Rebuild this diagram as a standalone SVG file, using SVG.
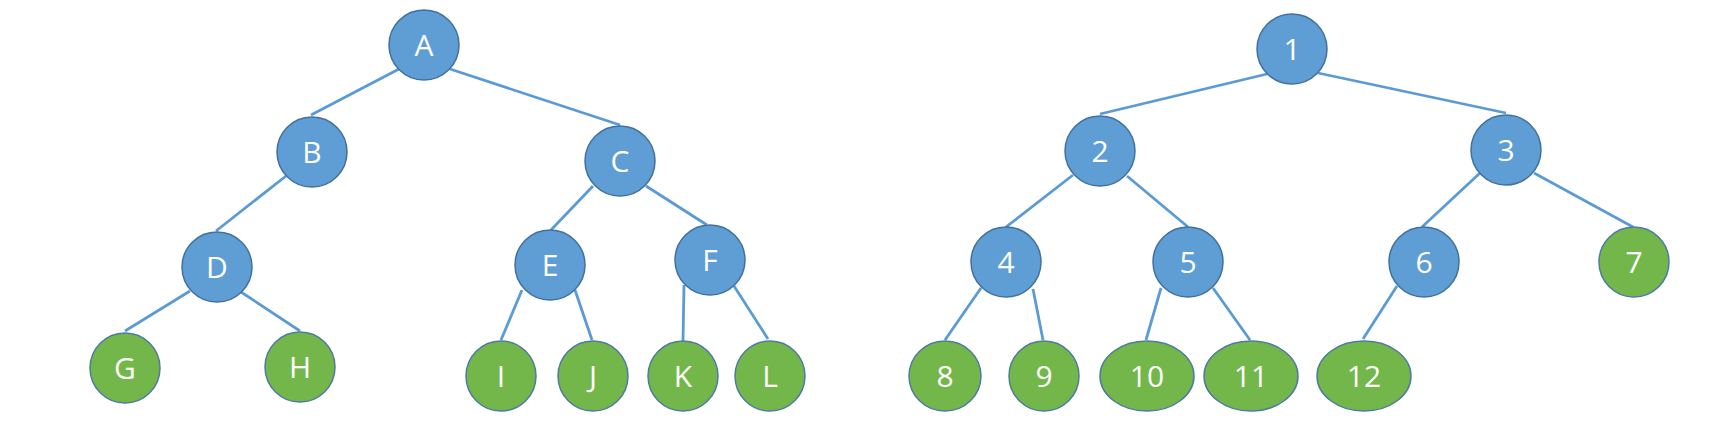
<svg xmlns="http://www.w3.org/2000/svg" width="1734" height="433" viewBox="0 0 1734 433">
<style>
.b{fill:#5F9DD5;stroke:#41719C;stroke-width:1.5}
.g{fill:#73B74A;stroke:#4E7BA0;stroke-width:1.5}
.t{font-family:"Open Sans","Liberation Sans",sans-serif;font-size:30px;fill:#ffffff;text-anchor:middle}
.e line{stroke:#5B9BD5;stroke-width:2.8;stroke-linecap:butt}
</style>
<rect width="1734" height="433" fill="#ffffff"/>
<g id="connectors" class="e">
<line x1="399" y1="69" x2="311" y2="115"/>
<line x1="450" y1="69" x2="620" y2="125"/>
<line x1="286" y1="176" x2="216" y2="231"/>
<line x1="593" y1="186" x2="551" y2="230"/>
<line x1="646" y1="186" x2="707" y2="225"/>
<line x1="190" y1="291" x2="125" y2="331"/>
<line x1="241" y1="292" x2="300" y2="331"/>
<line x1="522" y1="290" x2="501" y2="340"/>
<line x1="575" y1="290" x2="592" y2="340"/>
<line x1="684" y1="285" x2="683" y2="341"/>
<line x1="734" y1="286" x2="768" y2="339"/>
<line x1="1267" y1="74" x2="1100" y2="114"/>
<line x1="1318" y1="73" x2="1506" y2="113"/>
<line x1="1073" y1="175" x2="1006" y2="227"/>
<line x1="1127" y1="176" x2="1188" y2="227"/>
<line x1="1480" y1="173" x2="1422" y2="227"/>
<line x1="1534" y1="173" x2="1633" y2="227"/>
<line x1="981" y1="288" x2="945" y2="340"/>
<line x1="1033" y1="289" x2="1043" y2="340"/>
<line x1="1161" y1="288" x2="1146" y2="340"/>
<line x1="1213" y1="288" x2="1250" y2="340"/>
<line x1="1397" y1="286" x2="1363" y2="339"/>
</g>
<g id="A"><ellipse class="b" cx="424" cy="45" rx="35" ry="35"/><text class="t" x="424" y="56">A</text></g>
<g id="B"><ellipse class="b" cx="312" cy="152" rx="35" ry="35"/><text class="t" x="312" y="163">B</text></g>
<g id="C"><ellipse class="b" cx="620" cy="161" rx="35" ry="35"/><text class="t" x="620" y="172">C</text></g>
<g id="D"><ellipse class="b" cx="217" cy="267" rx="35" ry="35"/><text class="t" x="217" y="278">D</text></g>
<g id="E"><ellipse class="b" cx="550" cy="265" rx="35" ry="35"/><text class="t" x="550" y="276">E</text></g>
<g id="F"><ellipse class="b" cx="710" cy="260" rx="35" ry="35"/><text class="t" x="710" y="271">F</text></g>
<g id="G"><ellipse class="g" cx="125" cy="368" rx="35" ry="35"/><text class="t" x="125" y="379">G</text></g>
<g id="H"><ellipse class="g" cx="300" cy="367" rx="35" ry="35"/><text class="t" x="300" y="378">H</text></g>
<g id="I"><ellipse class="g" cx="501" cy="376" rx="35" ry="35"/><text class="t" x="501" y="387">I</text></g>
<g id="J"><ellipse class="g" cx="593" cy="376" rx="35" ry="35"/><text class="t" x="593" y="387">J</text></g>
<g id="K"><ellipse class="g" cx="683" cy="376" rx="35" ry="35"/><text class="t" x="683" y="387">K</text></g>
<g id="L"><ellipse class="g" cx="770" cy="376" rx="35" ry="35"/><text class="t" x="770" y="387">L</text></g>
<g id="n1"><ellipse class="b" cx="1292" cy="49" rx="35" ry="35"/><text class="t" x="1292" y="60">1</text></g>
<g id="n2"><ellipse class="b" cx="1100" cy="151" rx="35" ry="35"/><text class="t" x="1100" y="162">2</text></g>
<g id="n3"><ellipse class="b" cx="1506" cy="150" rx="35" ry="35"/><text class="t" x="1506" y="161">3</text></g>
<g id="n4"><ellipse class="b" cx="1006" cy="262" rx="35" ry="35"/><text class="t" x="1006" y="273">4</text></g>
<g id="n5"><ellipse class="b" cx="1188" cy="262" rx="35" ry="35"/><text class="t" x="1188" y="273">5</text></g>
<g id="n6"><ellipse class="b" cx="1424" cy="262" rx="35" ry="35"/><text class="t" x="1424" y="273">6</text></g>
<g id="n7"><ellipse class="g" cx="1634" cy="262" rx="35" ry="35"/><text class="t" x="1634" y="273">7</text></g>
<g id="n8"><ellipse class="g" cx="945" cy="376" rx="36" ry="35"/><text class="t" x="945" y="387">8</text></g>
<g id="n9"><ellipse class="g" cx="1044" cy="376" rx="35" ry="35"/><text class="t" x="1044" y="387">9</text></g>
<g id="n10"><ellipse class="g" cx="1147" cy="376" rx="47" ry="35"/><text class="t" x="1147" y="387">10</text></g>
<g id="n11"><ellipse class="g" cx="1251" cy="376" rx="47" ry="35"/><text class="t" x="1251" y="387">11</text></g>
<g id="n12"><ellipse class="g" cx="1364" cy="376" rx="47" ry="35"/><text class="t" x="1364" y="387">12</text></g>
</svg>
